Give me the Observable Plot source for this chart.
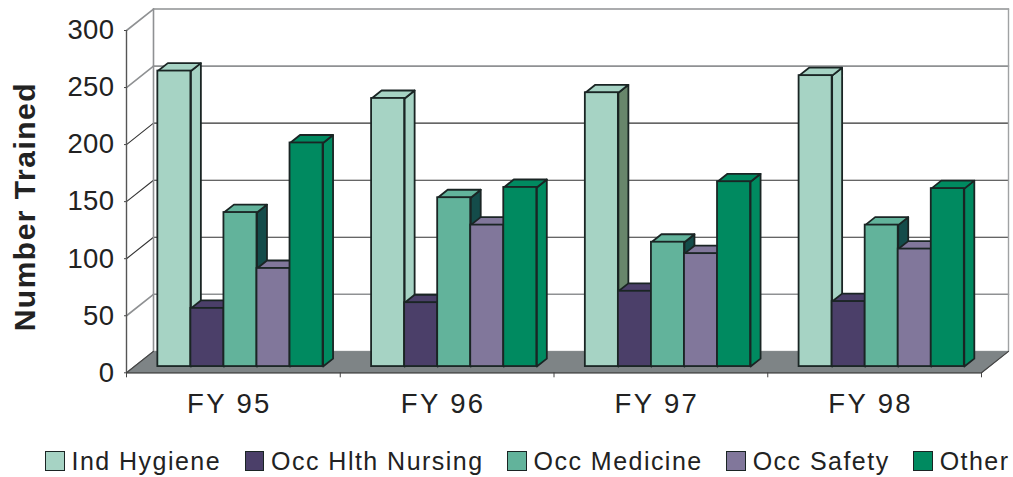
<!DOCTYPE html>
<html>
<head>
<meta charset="utf-8">
<script src="https://cdn.jsdelivr.net/npm/d3@7"></script>
<script src="https://cdn.jsdelivr.net/npm/@observablehq/plot@0.6"></script>
<style>
html,body{margin:0;padding:0;background:#fff;width:1013px;height:477px;overflow:hidden}
#legend{display:flex;align-items:center;height:32px;padding-left:45px;font:25px "Liberation Sans",Arial,sans-serif;letter-spacing:1.47px;color:#222;white-space:nowrap}
#legend .item{display:flex;align-items:center;margin-right:23.5px}
#legend .sw{width:17.5px;height:17.5px;border:1.5px solid #1a2524;margin-right:7px;flex:none}
svg{display:block}
</style>
</head>
<body>
<div id="chart"></div>
<div id="legend"></div>
<script>
const fiscalYears = ["FY 95","FY 96","FY 97","FY 98"];
const seriesNames = ["Ind Hygiene","Occ Hlth Nursing","Occ Medicine","Occ Safety","Other"];
const indHygiene = [259,235,240,255];
const occHlthNursing = [51,56,66,57];
const occMedicine = [135,148,109,124];
const occSafety = [86,124,99,103];
const other = [196,157,162,156];
const seriesValues = [indHygiene,occHlthNursing,occMedicine,occSafety,other];
const seriesColors = ["#a6d3c4","#4b3f69","#62b39b","#81779b","#008a60"];
const sideColors = ["#a6d3c4","#4b3f69","#144c4a","#81779b","#008a60"];
const yTicks = [0,50,100,150,200,250,300];
const gridColors = ["#555","#8f9193","#333","#333","#333","#8f9193","#8f9193"];

// Oblique projection of the chart's 3-D box, expressed in data units.
const depthX = 0.1263, depthY = 18.8;
const px = (x,z) => x + z*depthX;
const py = (v,z) => v + z*depthY;
const gapFrac = 0.11, barFrac = (0.883-0.11)/5;
const zFront = 0.29, zBack = 0.66;

const poly = (id,fill,stroke,pts) => pts.map(([x,v,z]) => ({id,fill,stroke,x:px(x,z),y:py(v,z)}));
const closedLine = (rows,strokeWidth) => Plot.line(rows,{x:"x",y:"y",z:"id",fill:"fill",stroke:"stroke",strokeWidth,curve:"linear-closed"});

const nG = fiscalYears.length;
const marks = [];
// wall and floor
marks.push(closedLine(poly("floor","#7e8486","#7e8486",[[0,0,0],[nG,0,0],[nG,0,1],[0,0,1]]),1));
const gridRows = yTicks.flatMap((t,i)=> t===0 ? [] : [
  {id:"side"+t,x:px(0,0),y:py(t,0),c:i},{id:"side"+t,x:px(0,1),y:py(t,1),c:i},
  {id:"back"+t,x:px(0,1),y:py(t,1),c:i},{id:"back"+t,x:px(nG,1),y:py(t,1),c:i}
]);
marks.push(Plot.line(gridRows,{x:"x",y:"y",z:"id",stroke:d=>gridColors[d.c],strokeWidth:d=>d.c>=5||d.c==1?1.6:1.1}));
marks.push(Plot.line([[0,0,1],[0,300,1]].map(([x,v,z])=>({x:px(x,z),y:py(v,z)})),{x:"x",y:"y",stroke:"#8f9193",strokeWidth:1.6}));
marks.push(Plot.line([[nG,0,1],[nG,300,1]].map(([x,v,z])=>({x:px(x,z),y:py(v,z)})),{x:"x",y:"y",stroke:"#a0a2a4",strokeWidth:1.4}));
// floor front edges
marks.push(Plot.line([[0,0,1],[0,0,0],[nG,0,0],[nG,0,1]].map(([x,v,z])=>({x:px(x,z),y:py(v,z)})),{x:"x",y:"y",stroke:"#444",strokeWidth:1.2}));
marks.push(Plot.ruleX([0],{y1:0,y2:300,stroke:"#555",strokeWidth:1.4}));

fiscalYears.forEach((fy,g)=>{
  seriesValues.forEach((vals,s)=>{
    const v = vals[g];
    const a = g+gapFrac+s*barFrac, b = a+barFrac;
    const side = (g===2 && s===0) ? "#68866b" : sideColors[s];
    const stroke = "#1a2524";
    marks.push(closedLine(poly(fy+s+"side",side,stroke,[[b,0,zFront],[b,0,zBack],[b,v,zBack],[b,v,zFront]]),1.8));
    marks.push(closedLine(poly(fy+s+"top",seriesColors[s],stroke,[[a,v,zFront],[b,v,zFront],[b,v,zBack],[a,v,zBack]]),1.8));
    marks.push(Plot.rect([{fy,name:seriesNames[s],v}],{x1:px(a,zFront),x2:px(b,zFront),y1:py(0,zFront),y2:d=>py(d.v,zFront),fill:seriesColors[s],stroke,strokeWidth:1.8}));
  });
});

const fontFamily = '"Liberation Sans",Arial,sans-serif';
marks.push(Plot.axisY({ticks:yTicks,tickSize:2,tickPadding:10,fontSize:27.5,stroke:"#444",fill:"#222",label:null,ariaLabel:"y ticks"}));
marks.push(Plot.axisX({ticks:d3.range(nG+1),tickSize:5,tickFormat:()=>"",stroke:"#444",label:null}));
marks.push(Plot.axisX({ticks:fiscalYears.map((d,i)=>i+0.5),tickSize:0,tickPadding:21,dx:-4,fontSize:27.5,fill:"#222",tickFormat:d=>fiscalYears[Math.floor(d)],label:null,ariaLabel:"fiscal years"}));
marks.push(Plot.text(["Number Trained"],{frameAnchor:"left",dx:-101,dy:5,rotate:-90,fontSize:30,fontWeight:"bold",fill:"#222",text:d=>d,textAnchor:"middle"}));

const svgH = 445, yBottom = 372.3, yTop = 30;
const chart = Plot.plot({
  width:1013,height:svgH,
  marginLeft:126,marginRight:32,marginTop:yTop,marginBottom:svgH-yBottom,
  x:{domain:[0,nG],axis:null},
  y:{domain:[0,300],axis:null},
  color:{type:"identity"},
  style:{fontFamily,letterSpacing:"1.5px",background:"#fff",overflow:"visible"},
  marks
});
document.getElementById("chart").append(chart);
// axis label tracking differs between the two axes
chart.querySelectorAll('g[aria-label^="fiscal years"]').forEach(g=>g.style.letterSpacing="2.4px");
chart.querySelectorAll('g[aria-label^="y ticks"]').forEach(g=>g.style.letterSpacing="0.4px");

const legend = d3.select("#legend");
seriesNames.forEach((n,i)=>{
  const it = legend.append("div").attr("class","item");
  it.append("div").attr("class","sw").style("background",seriesColors[i]);
  it.append("span").text(n);
});
</script>
</body>
</html>
